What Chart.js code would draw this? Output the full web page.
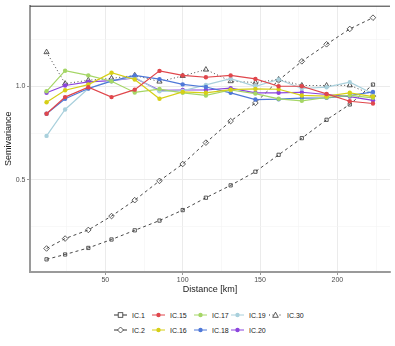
<!DOCTYPE html>
<html>
<head>
<meta charset="utf-8">
<script src="https://cdn.jsdelivr.net/npm/chart.js"></script>
<style>
    body { margin: 0; background: #fff; font-family: "Liberation Sans", Arial, sans-serif; }
    #wrap { position: relative; width: 395px; height: 346px; }
    #chart { position: absolute; left: 0; top: 0; }
    .leg { position: absolute; display: flex; align-items: center; height: 10px; font-size: 7px; color: #1a1a1a; white-space: nowrap; }
    .leg svg { margin-right: 5px; }
</style>
</head>
<body>
<div id="wrap">
    <canvas id="chart" width="395" height="298" style="width:395px;height:298px"></canvas>
    <div id="legend"></div>
</div>
<script>
// lag distances (km)
let distances = [12, 24, 39, 54, 69, 85, 100, 115, 131, 147, 162, 177, 193, 208, 223];

let ic1 = [0.076, 0.102, 0.137, 0.182, 0.231, 0.283, 0.339, 0.405, 0.471, 0.544, 0.634, 0.723, 0.821, 0.903, 1.009];
let ic2 = [0.134, 0.187, 0.233, 0.307, 0.392, 0.495, 0.585, 0.699, 0.814, 0.911, 1.032, 1.133, 1.224, 1.306, 1.366];
let ic15 = [0.853, 0.942, 0.995, 0.942, 0.982, 1.082, 1.058, 1.048, 1.058, 1.039, 1.000, 1.000, 0.959, 0.920, 0.908];
let ic16 = [0.915, 0.979, 1.009, 1.072, 1.036, 0.933, 0.970, 0.965, 0.982, 0.986, 0.984, 0.951, 0.947, 0.965, 0.945];
let ic17 = [0.973, 1.083, 1.058, 1.027, 0.967, 0.985, 0.965, 0.951, 0.980, 0.961, 0.933, 0.922, 0.940, 0.951, 0.938];
let ic18 = [0.853, 0.933, 0.988, 1.027, 1.058, 1.038, 1.010, 0.996, 0.965, 0.929, 0.931, 0.937, 0.938, 0.950, 0.970];
let ic19 = [0.735, 0.876, 0.988, 1.030, 1.048, 0.973, 0.975, 1.007, 1.041, 1.000, 1.036, 0.988, 0.995, 1.022, 0.960];
let ic20 = [0.965, 1.004, 1.023, 1.030, 1.044, 0.978, 0.980, 0.980, 0.990, 0.965, 0.965, 0.968, 0.956, 0.945, 0.925];
let ic30 = [1.182, 1.014, 1.032, 1.042, 1.058, 1.025, 1.055, 1.089, 1.027, 1.020, 1.036, 1.004, 1.004, 1.005, 0.954];

let xTicks = [25, 50, 75, 100, 125, 150, 175, 200, 225];
let yTicks = [0.25, 0.5, 0.75, 1.0, 1.25];

let colors = {
    black: '#333333',
    red: '#e0474c',
    yellow: '#d6cf17',
    green: '#a5d666',
    blue: '#4f78d8',
    lightblue: '#a9d0dc',
    purple: '#8b44dd'
};

function pts(values) {
    return values.map(function (v, i) {
        return {x: distances[i], y: v};
    });
}

function colored(label, values, color) {
    return {
        label: label,
        data: pts(values),
        borderColor: color,
        backgroundColor: color,
        borderWidth: 1.2,
        pointRadius: 2.2,
        pointBorderWidth: 0,
        pointStyle: 'circle'
    };
}

function black(label, values, style, dash, radius) {
    return {
        label: label,
        data: pts(values),
        borderColor: colors.black,
        backgroundColor: 'rgba(0,0,0,0)',
        borderWidth: 0.9,
        borderDash: dash,
        pointRadius: radius,
        pointBorderWidth: 0.8,
        pointStyle: style
    };
}

let datasets = [
    colored('IC.15', ic15, colors.red),
    colored('IC.16', ic16, colors.yellow),
    colored('IC.17', ic17, colors.green),
    colored('IC.18', ic18, colors.blue),
    colored('IC.19', ic19, colors.lightblue),
    colored('IC.20', ic20, colors.purple),
    black('IC.30', ic30, 'triangle', [1, 2.5], 3),
    black('IC.1', ic1, 'rect', [3, 3], 2.3),
    black('IC.2', ic2, 'rectRot', [3, 3], 2.8)
];

let frame = {
    id: 'frame',
    afterDraw: function (chart) {
        let a = chart.chartArea;
        let ctx = chart.ctx;
        ctx.save();
        ctx.strokeStyle = '#333333';
        ctx.lineWidth = 1;
        ctx.beginPath();
        ctx.moveTo(a.left, a.top + 0.5);
        ctx.lineTo(a.right, a.top + 0.5);
        ctx.stroke();
        ctx.restore();
    }
};

let tickFont = {family: '"Liberation Sans", Arial, sans-serif', size: 7};
let titleFont = {family: '"Liberation Sans", Arial, sans-serif', size: 9};

new Chart(document.getElementById('chart').getContext('2d'), {
    type: 'line',
    data: {datasets: datasets},
    options: {
        responsive: false,
        animation: false,
        layout: {padding: {left: 0, right: 5, top: 4, bottom: 0}},
        plugins: {legend: {display: false}, tooltip: {enabled: false}},
        scales: {
            x: {
                type: 'linear',
                min: 1.3,
                max: 234,
                afterFit: function (s) { s.height = 26; },
                afterBuildTicks: function (s) {
                    s.ticks = xTicks.map(function (v) { return {value: v}; });
                },
                ticks: {
                    font: tickFont,
                    color: '#4d4d4d',
                    padding: 1,
                    maxRotation: 0,
                    autoSkip: false,
                    callback: function (v) { return v % 50 === 0 ? String(v) : ''; }
                },
                grid: {
                    color: function (c) { return c.tick && c.tick.value % 50 === 0 ? '#ebebeb' : '#f4f4f4'; },
                    lineWidth: function (c) { return c.tick && c.tick.value % 50 === 0 ? 1 : 0.6; },
                    tickColor: function (c) { return c.tick && c.tick.value % 50 === 0 ? '#999999' : 'rgba(0,0,0,0)'; },
                    tickLength: 3
                },
                border: {color: '#9a9a9a', width: 2},
                title: {display: true, text: 'Distance [km]', font: titleFont, color: '#1a1a1a', padding: {top: 0, bottom: 3}}
            },
            y: {
                min: 0.0085,
                max: 1.43,
                afterFit: function (s) { s.width = 30; },
                afterBuildTicks: function (s) {
                    s.ticks = yTicks.map(function (v) { return {value: v}; });
                },
                ticks: {
                    font: tickFont,
                    color: '#4d4d4d',
                    padding: 1.5,
                    autoSkip: false,
                    callback: function (v) { return (v === 0.5 || v === 1) ? v.toFixed(1) : ''; }
                },
                grid: {
                    color: function (c) { return c.tick && (c.tick.value === 0.5 || c.tick.value === 1) ? '#ebebeb' : '#f4f4f4'; },
                    lineWidth: function (c) { return c.tick && (c.tick.value === 0.5 || c.tick.value === 1) ? 1 : 0.6; },
                    tickColor: function (c) { return c.tick && (c.tick.value === 0.5 || c.tick.value === 1) ? '#999999' : 'rgba(0,0,0,0)'; },
                    tickLength: 3
                },
                border: {color: '#9a9a9a', width: 2},
                title: {display: true, text: 'Semivariance', font: titleFont, color: '#1a1a1a', padding: {top: 3, bottom: 0}}
            }
        }
    },
    plugins: [frame]
});

// legend, filled column by column like the original
let legendItems = [
    {label: 'IC.1', col: 0, row: 0, color: colors.black, marker: 'square', dash: ''},
    {label: 'IC.2', col: 0, row: 1, color: colors.black, marker: 'diamond', dash: ''},
    {label: 'IC.15', col: 1, row: 0, color: colors.red, marker: 'dot', dash: ''},
    {label: 'IC.16', col: 1, row: 1, color: colors.yellow, marker: 'dot', dash: ''},
    {label: 'IC.17', col: 2, row: 0, color: colors.green, marker: 'dot', dash: ''},
    {label: 'IC.18', col: 2, row: 1, color: colors.blue, marker: 'dot', dash: ''},
    {label: 'IC.19', col: 3, row: 0, color: colors.lightblue, marker: 'dot', dash: ''},
    {label: 'IC.20', col: 3, row: 1, color: colors.purple, marker: 'dot', dash: ''},
    {label: 'IC.30', col: 4, row: 0, color: colors.black, marker: 'triangle', dash: '1 2.5'}
];
let colLeft = [114, 152, 194, 231, 269];
let rowTop = [310, 325];

function markerSvg(item) {
    let line = '<line x1="0" y1="5" x2="13" y2="5" stroke="' + item.color + '" stroke-width="1"' +
        (item.dash ? ' stroke-dasharray="' + item.dash + '"' : '') + '/>';
    let m = '';
    if (item.marker === 'dot') {
        m = '<circle cx="6.5" cy="5" r="2.2" fill="' + item.color + '"/>';
    } else if (item.marker === 'square') {
        m = '<rect x="4.2" y="2.7" width="4.6" height="4.6" fill="#fff" stroke="' + item.color + '" stroke-width="0.8"/>';
    } else if (item.marker === 'diamond') {
        m = '<polygon points="6.5,2 9.5,5 6.5,8 3.5,5" fill="#fff" stroke="' + item.color + '" stroke-width="0.8"/>';
    } else {
        m = '<polygon points="6.5,2.2 9.3,7.3 3.7,7.3" fill="#fff" stroke="' + item.color + '" stroke-width="0.8"/>';
    }
    return '<svg width="13" height="10" viewBox="0 0 13 10">' + line + m + '</svg>';
}

let legend = document.getElementById('legend');
legendItems.forEach(function (item) {
    let d = document.createElement('div');
    d.className = 'leg';
    d.style.left = colLeft[item.col] + 'px';
    d.style.top = rowTop[item.row] + 'px';
    d.innerHTML = markerSvg(item) + '<span>' + item.label + '</span>';
    legend.appendChild(d);
});
</script>
</body>
</html>
